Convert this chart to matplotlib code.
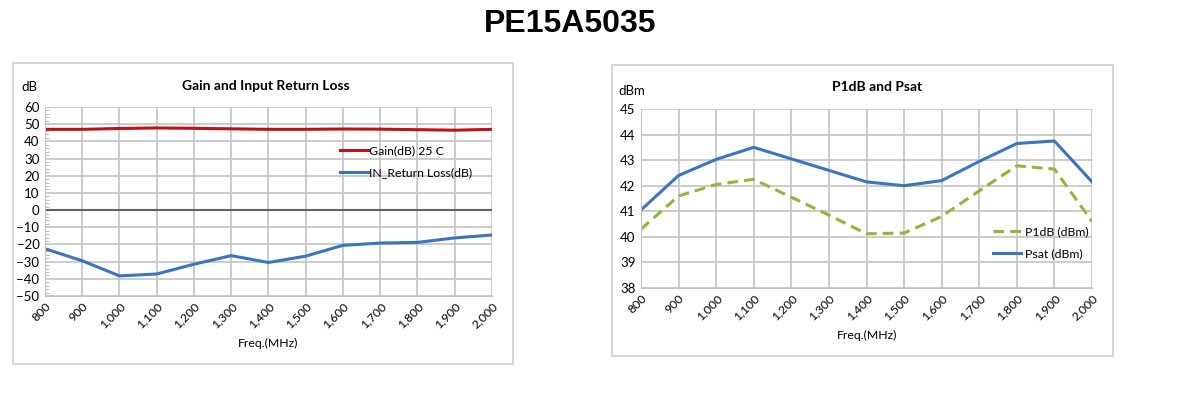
"""PE15A5035 gain / return loss and P1dB / Psat curves."""

import matplotlib.pyplot as plt
from matplotlib.patches import Rectangle
from matplotlib.ticker import FuncFormatter, MultipleLocator

freq = [800, 900, 1000, 1100, 1200, 1300, 1400, 1500, 1600, 1700, 1800, 1900, 2000]
gain_db = [47.0, 47.0, 47.5, 47.8, 47.6, 47.3, 47.0, 47.0, 47.2, 47.1, 46.8, 46.5, 47.0]
return_loss_db = [-22.5, -29.5, -38.3, -37.2, -31.5, -26.5, -30.5, -26.8, -20.5, -19.2, -18.8, -16.2, -14.5]
p1db = [40.3, 41.6, 42.05, 42.25, 41.55, 40.85, 40.12, 40.15, 40.8, 41.8, 42.78, 42.65, 40.6]
psat = [41.05, 42.4, 43.03, 43.5, 43.05, 42.6, 42.15, 42.0, 42.2, 42.95, 43.65, 43.75, 42.15]

W, H = 1189, 398
plt.rcParams["font.family"] = ["Lato", "DejaVu Sans"]

RED = "#c0101a"
BLUE = "#3c74c2"
GREEN = "#8db83c"
GRID = "#c4c4c4"


def px_axes(fig, x0, y0, x1, y1):
    return fig.add_axes([x0 / W, 1 - y1 / H, (x1 - x0) / W, (y1 - y0) / H])


def frame(fig, x0, y0, x1, y1):
    fig.patches.append(Rectangle((x0 / W, 1 - y1 / H), (x1 - x0) / W, (y1 - y0) / H,
                                 transform=fig.transFigure, fill=False,
                                 edgecolor="#cfcfcf", linewidth=1.2))


def style(ax):
    ax.set_xlim(800, 2000)
    ax.set_xticks(freq)
    ax.xaxis.set_major_formatter(FuncFormatter(lambda v, _: f"{int(v):,}"))
    ax.tick_params(axis="x", labelrotation=45, labelsize=8.8, length=0, pad=3)
    ax.tick_params(axis="y", labelsize=9.5, length=0, pad=4)
    for lbl in ax.get_xticklabels():
        lbl.set_ha("right")
        lbl.set_rotation_mode("anchor")
    ax.grid(True, color=GRID, linewidth=1.2)
    ax.set_axisbelow(True)
    for s in ax.spines.values():
        s.set_visible(False)
    ax.spines["left"].set_visible(True)
    ax.spines["left"].set_color(GRID)
    ax.spines["bottom"].set_visible(True)
    ax.spines["bottom"].set_color(GRID)


fig = plt.figure(figsize=(W / 100, H / 100), dpi=100)
fig.text(570 / W, 1 - 24 / H, "PE15A5035", ha="center", va="center",
         fontsize=23, fontweight="bold", family="Liberation Sans")

# left panel
frame(fig, 13, 63, 513, 364)
ax1 = px_axes(fig, 45, 107, 492, 296)
style(ax1)
ax1.set_ylim(-50, 60)
ax1.yaxis.set_major_locator(MultipleLocator(10))
ax1.yaxis.set_minor_locator(MultipleLocator(2))
ax1.tick_params(axis="y", which="minor", direction="in", length=3, color="#b0b0b0", left=True)
ax1.axhline(0, color="#606060", linewidth=1.5, zorder=1)
ax1.plot(freq, gain_db, color=RED, linewidth=2.2, label="Gain(dB) 25 C")
ax1.plot(freq, return_loss_db, color=BLUE, linewidth=2.2, label="IN_Return Loss(dB)")
ax1.legend(loc="upper left", bbox_to_anchor=((335 - 45) / (492 - 45), 1 - (140 - 107) / (296 - 107)),
           frameon=False, fontsize=8.8, handlelength=2.3, handletextpad=0.1,
           labelspacing=0.95, borderaxespad=0)
fig.text(266 / W, 1 - 86 / H, "Gain and Input Return Loss", ha="center", va="center",
         fontsize=10, fontweight="bold")
fig.text(29 / W, 1 - 87 / H, "dB", ha="center", va="center", fontsize=9.5)
fig.text(268 / W, 1 - 343 / H, "Freq.(MHz)", ha="center", va="center", fontsize=8.8)

# right panel
frame(fig, 612, 65, 1113, 356)
ax2 = px_axes(fig, 641, 109, 1092, 288)
style(ax2)
ax2.set_ylim(38, 45)
ax2.yaxis.set_major_locator(MultipleLocator(1))
ax2.plot(freq, p1db, color=GREEN, linewidth=2.2, linestyle=(0, (3.5, 2)), label="P1dB (dBm)")
ax2.plot(freq, psat, color=BLUE, linewidth=2.2, label="Psat (dBm)")
ax2.legend(loc="upper left", bbox_to_anchor=((988 - 641) / (1092 - 641), 1 - (221 - 109) / (288 - 109)),
           frameon=False, fontsize=8.8, handlelength=2.3, handletextpad=0.3,
           labelspacing=0.95, borderaxespad=0)
fig.text(877 / W, 1 - 87 / H, "P1dB and Psat", ha="center", va="center",
         fontsize=10, fontweight="bold")
fig.text(632 / W, 1 - 91 / H, "dBm", ha="center", va="center", fontsize=9.5)
fig.text(867 / W, 1 - 335 / H, "Freq.(MHz)", ha="center", va="center", fontsize=8.8)

fig.savefig("out.png", dpi=100)
plt.close(fig)
